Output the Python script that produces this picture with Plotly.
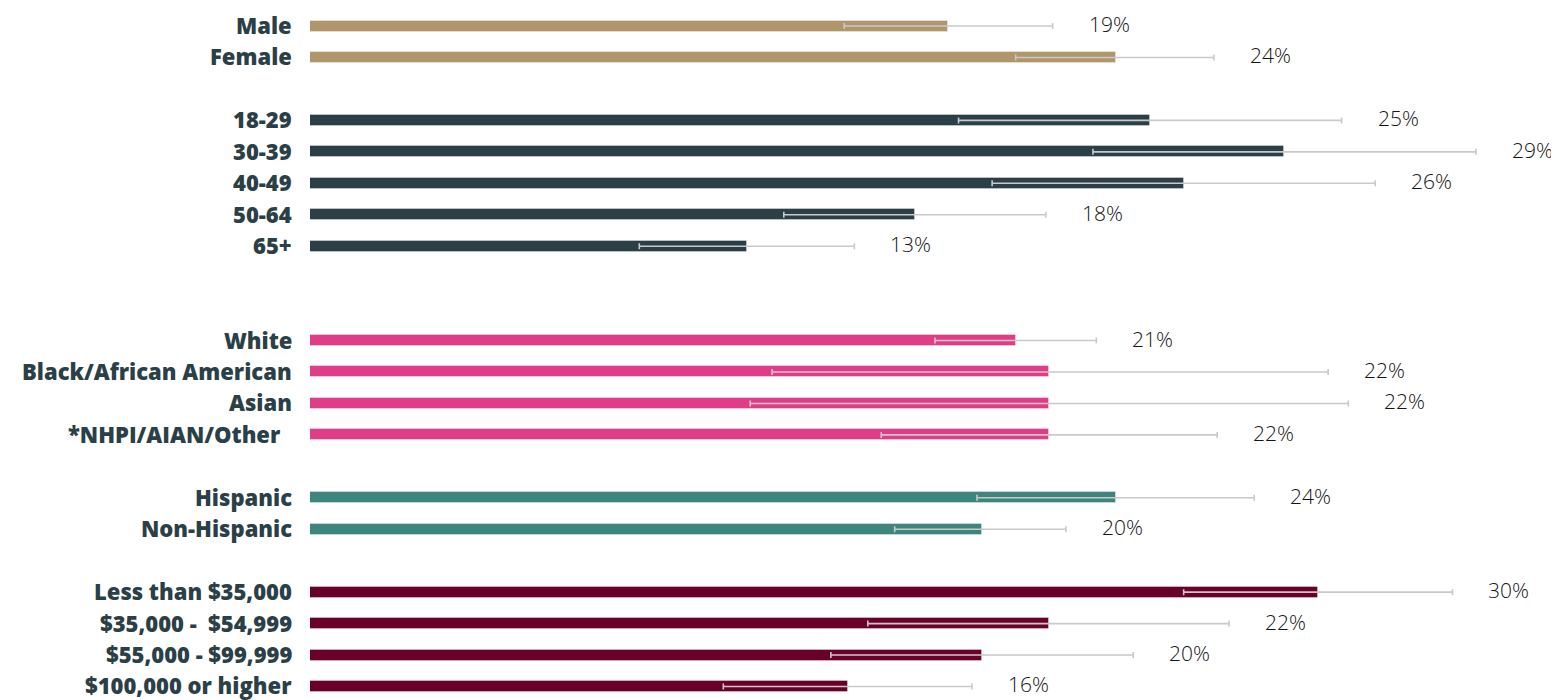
import plotly.graph_objects as go

# categories and the row each sits on (gaps between groups)
labels = ["Male", "Female",
          "18-29", "30-39", "40-49", "50-64", "65+",
          "White", "Black/African American", "Asian", "*NHPI/AIAN/Other&nbsp;&nbsp;",
          "Hispanic", "Non-Hispanic",
          "Less than $35,000", "$35,000 -  $54,999", "$55,000 - $99,999", "$100,000 or higher"]
rows = [0, 1, 3, 4, 5, 6, 7, 10, 11, 12, 13, 15, 16, 18, 19, 20, 21]

values = [19, 24, 25, 29, 26, 18, 13, 21, 22, 22, 22, 24, 20, 30, 22, 20, 16]
lower = [15.9, 21.0, 19.3, 23.3, 20.3, 14.1, 9.8, 18.6, 13.75, 13.1, 17.0,
         19.85, 17.4, 26.0, 16.6, 15.5, 12.3]
upper = [22.1, 26.9, 30.7, 34.7, 31.7, 21.9, 16.2, 23.4, 30.3, 30.9, 27.0,
         28.1, 22.5, 34.0, 27.35, 24.5, 19.7]

TAN, SLATE, PINK, TEAL, MAROON = "#b0966b", "#2b3f47", "#e03d88", "#3f857f", "#6a0027"
group_colors = [TAN] * 2 + [SLATE] * 5 + [PINK] * 4 + [TEAL] * 2 + [MAROON] * 4
LABEL_COLOR = "#2b3f47"

fig = go.Figure(go.Bar(
    x=values, y=rows, orientation="h", width=0.35,
    marker=dict(color=group_colors, line=dict(color="rgba(255,255,255,0.35)", width=1)),
    error_x=dict(type="data", symmetric=False,
                 array=[u - v for u, v in zip(upper, values)],
                 arrayminus=[v - l for v, l in zip(values, lower)],
                 color="#c9c9c9", thickness=1.6, width=3),
    hoverinfo="skip",
))

for r, lab in zip(rows, labels):
    fig.add_annotation(x=0, xref="paper", y=r, text=lab, showarrow=False,
                       xanchor="right", yanchor="middle", xshift=-16, yshift=1,
                       font=dict(family="Open Sans", size=22, color=LABEL_COLOR, weight=800))

for r, v, u in zip(rows, values, upper):
    fig.add_annotation(x=u, y=r, text=f"{v}%", showarrow=False,
                       xanchor="left", yanchor="middle", xshift=34, yshift=2,
                       font=dict(family="Open Sans", size=21, color="#141414", weight=300))

fig.update_layout(
    width=1551, height=692,
    paper_bgcolor="white", plot_bgcolor="white",
    margin=dict(l=302, r=0, t=2, b=0),
    showlegend=False,
    bargap=0,
    xaxis=dict(range=[0, 37.17], visible=False, fixedrange=True),
    yaxis=dict(range=[21.43, -0.51], visible=False, fixedrange=True),
)

fig.write_html("out.html")
